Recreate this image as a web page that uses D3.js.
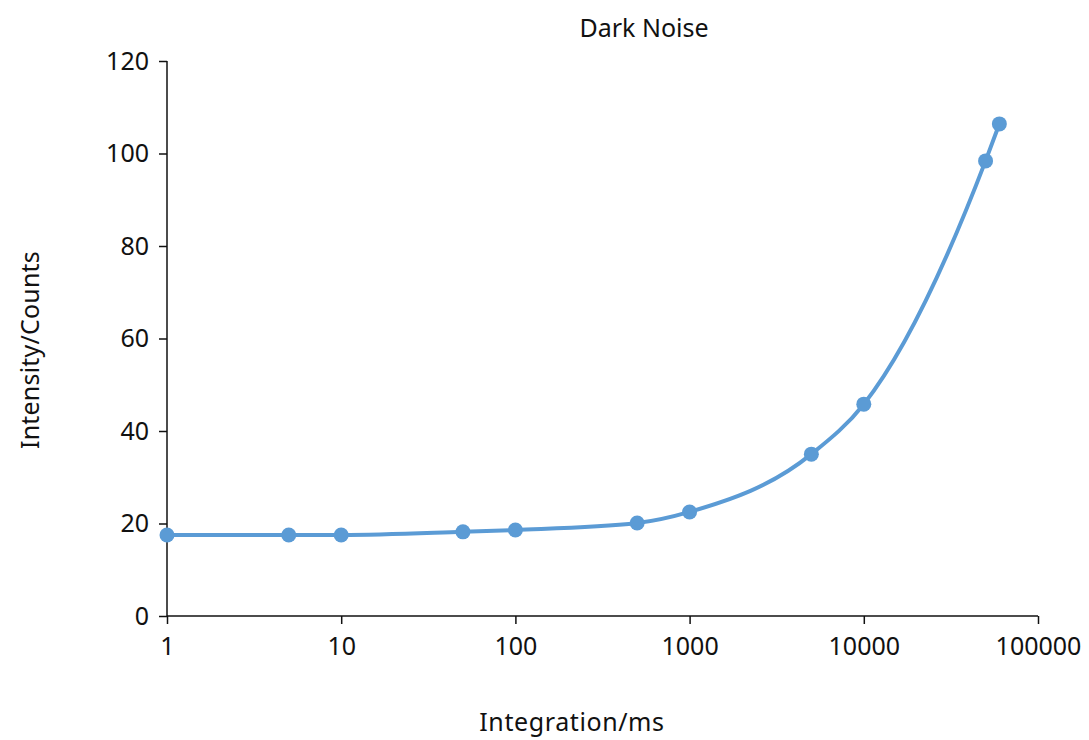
<!DOCTYPE html>
<html><head><meta charset="utf-8">
<script src="https://cdn.jsdelivr.net/npm/d3@7"></script>
<style>body{margin:0;background:#fff;} text{font-family:"Noto Sans","Open Sans",sans-serif;fill:#111;}</style>
</head><body><svg id="c" width="1089" height="740"></svg>
<script>
const integration = [1, 5, 10, 50, 100, 500, 1000, 5000, 10000, 50000, 60000];
const intensity = [17.5, 17.5, 17.5, 18.2, 18.6, 20.1, 22.5, 35.0, 45.8, 98.4, 106.4];
const xTicks = [1, 10, 100, 1000, 10000, 100000];
const yTicks = [0, 20, 40, 60, 80, 100, 120];

const svg = d3.select("#c");
const x = d3.scaleLog().domain([1, 100000]).range([167, 1038]);
const y = d3.scaleLinear().domain([0, 120]).range([616, 61]);

const xa = svg.append("g").attr("transform", "translate(0,616)")
  .call(d3.axisBottom(x).tickValues(xTicks).tickFormat(d3.format("d")).tickSize(8).tickSizeOuter(8).tickPadding(13));
const ya = svg.append("g").attr("transform", "translate(167,0)")
  .call(d3.axisLeft(y).tickValues(yTicks).tickSize(8).tickSizeOuter(0).tickPadding(10));
[xa, ya].forEach(a => {
  a.selectAll("path,line").attr("stroke", "#111").attr("stroke-width", 1.5);
  a.selectAll("text").attr("font-size", 25).style("fill", "#111");
});
ya.select("path").attr("d", "M0,616V61");
xa.select("path").attr("d", "M167,0H1038");

const data = integration.map((v, i) => [v, intensity[i]]);
svg.append("path").datum(data)
  .attr("fill", "none").attr("stroke", "#5B9BD5").attr("stroke-width", 4)
  .attr("d", d3.line().x(d => x(d[0])).y(d => y(d[1])).curve(d3.curveMonotoneX));
svg.selectAll("circle.pt").data(data).enter().append("circle")
  .attr("cx", d => x(d[0])).attr("cy", d => y(d[1])).attr("r", 7.5).attr("fill", "#5B9BD5");

svg.append("text").attr("x", 644).attr("y", 37).attr("text-anchor", "middle").attr("font-size", 25).text("Dark Noise");
svg.append("text").attr("x", 572).attr("y", 731).attr("text-anchor", "middle").attr("font-size", 25).attr("letter-spacing", 0.6).text("Integration/ms");
svg.append("text").attr("transform", "translate(39,350) rotate(-90)").attr("text-anchor", "middle").attr("font-size", 25).attr("letter-spacing", 0.2).text("Intensity/Counts");
</script></body></html>
